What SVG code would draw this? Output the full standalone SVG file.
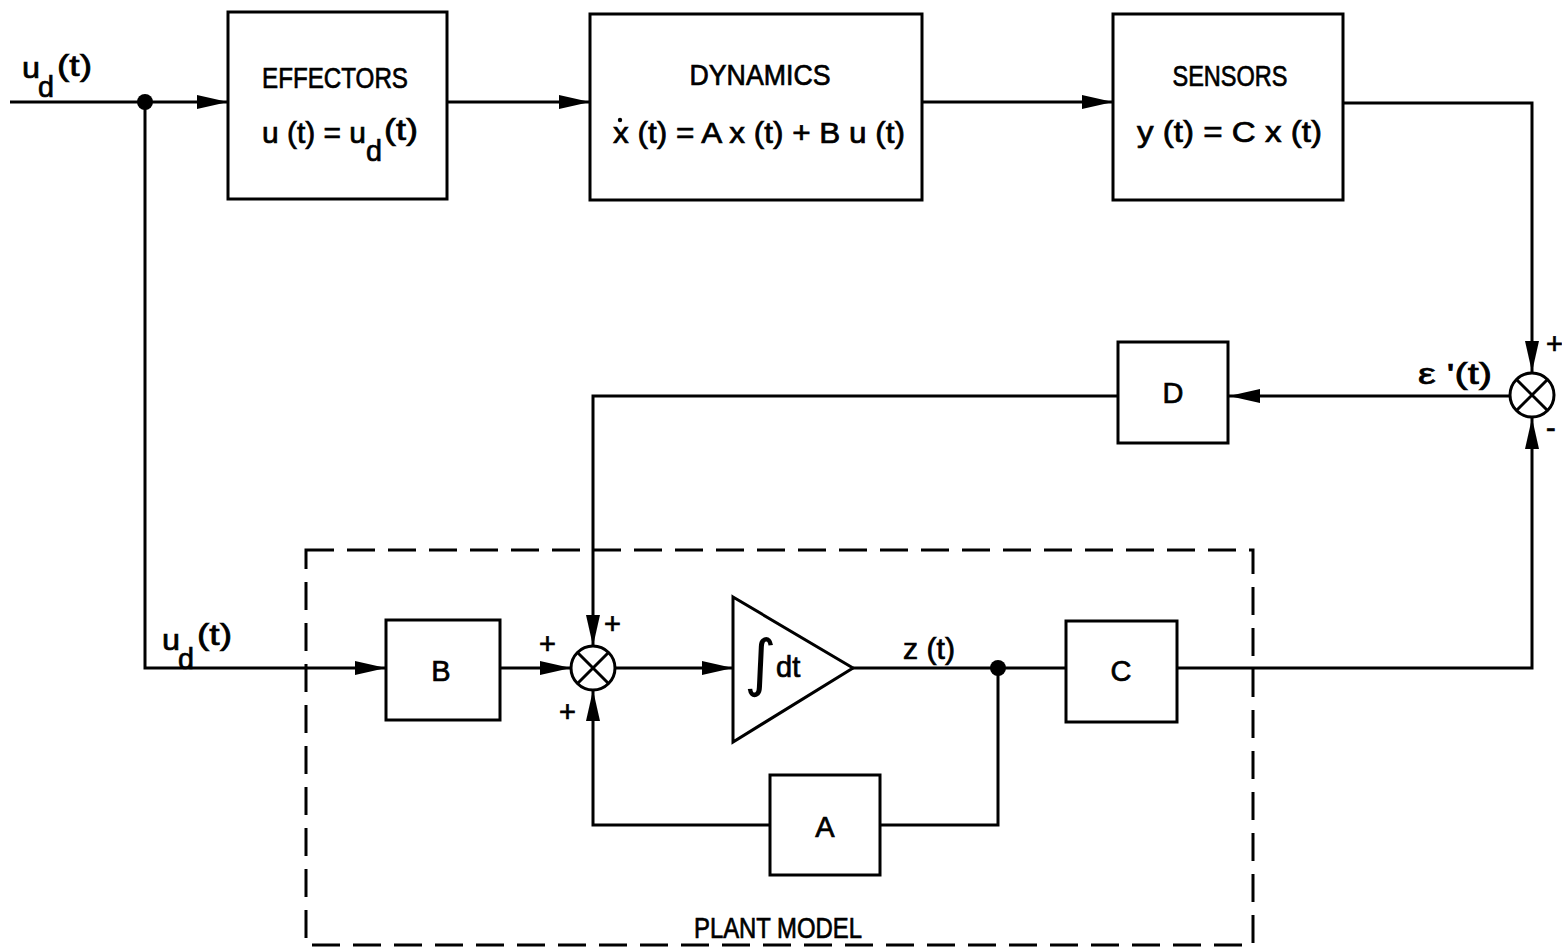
<svg xmlns="http://www.w3.org/2000/svg" width="1562" height="950" viewBox="0 0 1562 950">
<defs>
<marker id="arr" markerUnits="userSpaceOnUse" markerWidth="32" markerHeight="16" refX="31" refY="8" orient="auto">
<path d="M0,1 L31,8 L0,15 z" fill="#000"/>
</marker>
<style>
.box{fill:#fff;stroke:#000;stroke-width:3}
.ln{fill:none;stroke:#000;stroke-width:3}
.t{font-family:"Liberation Sans","DejaVu Sans",sans-serif;fill:#000;stroke:#000;stroke-width:0.7;font-size:29px}
.m{text-anchor:middle}
.dash{fill:none;stroke:#000;stroke-width:3;stroke-dasharray:28 13}
</style>
</defs>
<rect width="1562" height="950" fill="#fff"/>

<g id="plant-model">
<rect class="dash" x="306" y="550" width="947" height="395"/>
<text class="t m" x="778" y="938" textLength="168" lengthAdjust="spacingAndGlyphs">PLANT MODEL</text>
</g>

<g id="connectors">
<path class="ln" d="M10,102 H228" marker-end="url(#arr)"/>
<path class="ln" d="M447,102 H590" marker-end="url(#arr)"/>
<path class="ln" d="M922,102 H1113" marker-end="url(#arr)"/>
<path class="ln" d="M1343,103 H1532 V372" marker-end="url(#arr)"/>
<path class="ln" d="M1510,396 H1229" marker-end="url(#arr)"/>
<path class="ln" d="M1118,396 H593 V646" marker-end="url(#arr)"/>
<path class="ln" d="M145,102 V668 H386" marker-end="url(#arr)"/>
<path class="ln" d="M500,668 H571" marker-end="url(#arr)"/>
<path class="ln" d="M615,668 H733" marker-end="url(#arr)"/>
<path class="ln" d="M853,668 H1066"/>
<path class="ln" d="M998,668 V825 H880"/>
<path class="ln" d="M770,825 H593 V690" marker-end="url(#arr)"/>
<path class="ln" d="M1177,668 H1532 V418" marker-end="url(#arr)"/>
<circle cx="145" cy="102" r="8"/>
<circle cx="998" cy="668" r="8"/>
<text class="t" x="22" y="78" textLength="18" lengthAdjust="spacingAndGlyphs">u</text>
<text class="t" x="38" y="97" textLength="16" lengthAdjust="spacingAndGlyphs">d</text>
<text class="t" x="57" y="76" textLength="35" lengthAdjust="spacingAndGlyphs">(t)</text>
<text class="t" x="162" y="650" textLength="18" lengthAdjust="spacingAndGlyphs">u</text>
<text class="t" x="178" y="669" textLength="16" lengthAdjust="spacingAndGlyphs">d</text>
<text class="t" x="197" y="645" textLength="35" lengthAdjust="spacingAndGlyphs">(t)</text>
<text class="t" x="1418" y="384" textLength="74" lengthAdjust="spacingAndGlyphs">ε '(t)</text>
<text class="t" x="1546" y="354" font-size="24">+</text>
<text class="t" x="1546" y="438" font-size="24">-</text>
<text class="t" x="903" y="659" textLength="52" lengthAdjust="spacingAndGlyphs">z (t)</text>
<text class="t" x="539" y="654" font-size="24">+</text>
<text class="t" x="604" y="634" font-size="24">+</text>
<text class="t" x="559" y="722" font-size="24">+</text>
</g>

<g id="effectors">
<rect class="box" x="228" y="12" width="219" height="187"/>
<text class="t" x="262" y="88" textLength="146" lengthAdjust="spacingAndGlyphs">EFFECTORS</text>
<text class="t" x="262" y="143" textLength="104" lengthAdjust="spacingAndGlyphs">u (t) = u</text>
<text class="t" x="366" y="161" textLength="16" lengthAdjust="spacingAndGlyphs">d</text>
<text class="t" x="384" y="140" textLength="34" lengthAdjust="spacingAndGlyphs">(t)</text>
</g>

<g id="dynamics">
<rect class="box" x="590" y="14" width="332" height="186"/>
<text class="t m" x="760" y="85" textLength="141" lengthAdjust="spacingAndGlyphs">DYNAMICS</text>
<text class="t" x="613" y="143" textLength="292" lengthAdjust="spacingAndGlyphs">x (t)  =  A x (t) + B u (t)</text>
<circle cx="620" cy="120" r="2.2"/>
</g>

<g id="sensors">
<rect class="box" x="1113" y="14" width="230" height="186"/>
<text class="t m" x="1230" y="86" textLength="115" lengthAdjust="spacingAndGlyphs">SENSORS</text>
<text class="t" x="1137" y="142" textLength="185" lengthAdjust="spacingAndGlyphs">y (t)  =   C x (t)</text>
</g>

<g id="sum-error">
<circle class="box" cx="1532" cy="395" r="22"/>
<path class="ln" d="M1516.5,379.5 L1547.5,410.5 M1547.5,379.5 L1516.5,410.5"/>
</g>

<g id="d-block">
<rect class="box" x="1118" y="342" width="110" height="101"/>
<text class="t m" x="1173" y="403">D</text>
</g>

<g id="b-block">
<rect class="box" x="386" y="620" width="114" height="100"/>
<text class="t m" x="441" y="681">B</text>
</g>

<g id="sum-plant">
<circle class="box" cx="593" cy="668" r="22"/>
<path class="ln" d="M577.5,652.5 L608.5,683.5 M608.5,652.5 L577.5,683.5"/>
</g>

<g id="integrator">
<path class="box" d="M733,597 L853,668 L733,742 z"/>
<text class="t" x="744" y="684"><tspan font-family="DejaVu Sans, sans-serif" font-size="62" stroke="none">∫</tspan><tspan x="776" y="677">dt</tspan></text>
</g>

<g id="c-block">
<rect class="box" x="1066" y="621" width="111" height="101"/>
<text class="t m" x="1121" y="681">C</text>
</g>

<g id="a-block">
<rect class="box" x="770" y="775" width="110" height="100"/>
<text class="t m" x="825" y="837">A</text>
</g>
</svg>
